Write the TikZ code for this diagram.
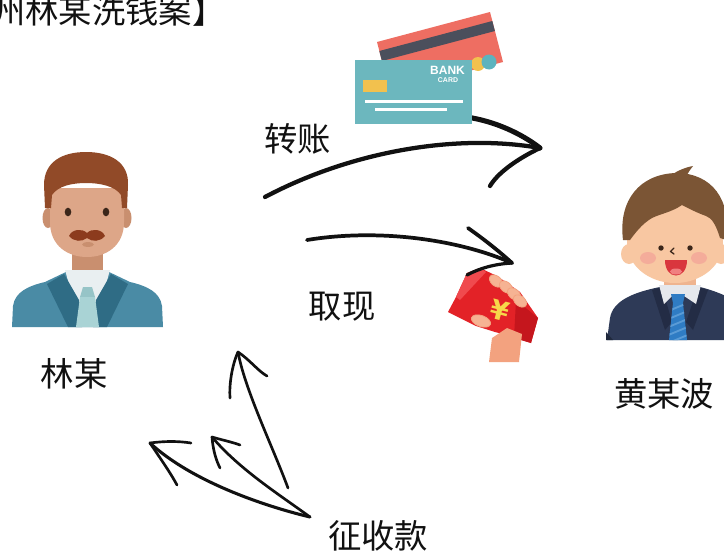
\documentclass[tikz,border=0pt]{standalone}
\usepackage{fontspec}
\newfontfamily\cjk{Noto Sans CJK SC}
\newfontfamily\cardfont{Liberation Sans}
\newfontfamily\yenfont{DejaVu Sans}

% palette
\definecolor{suitL}{HTML}{4A8BA5}
\definecolor{lapelL}{HTML}{2F6C85}
\definecolor{shirtL}{HTML}{E9EFF1}
\definecolor{tieL}{HTML}{A9D3D5}
\definecolor{knotL}{HTML}{96C4C7}
\definecolor{skinL}{HTML}{DDA688}
\definecolor{skinDL}{HTML}{C98F6F}
\definecolor{hairL}{HTML}{914A28}
\definecolor{stacheL}{HTML}{8C3B1D}
\definecolor{eyeL}{HTML}{3B261A}
\definecolor{suitR}{HTML}{2E3A57}
\definecolor{lapelR}{HTML}{232C45}
\definecolor{shirtR}{HTML}{E6E8EC}
\definecolor{tieR}{HTML}{2F7CC4}
\definecolor{tieRs}{HTML}{5A9BD6}
\definecolor{skinR}{HTML}{F8C7A2}
\definecolor{skinDR}{HTML}{EFB48F}
\definecolor{hairR}{HTML}{7B5535}
\definecolor{cheekR}{HTML}{F29B96}
\definecolor{mouthR}{HTML}{D9363E}
\definecolor{tongueR}{HTML}{F07F80}
\definecolor{cardRed}{HTML}{EE6E62}
\definecolor{cardStripe}{HTML}{4B4F5C}
\definecolor{cardTeal}{HTML}{6CB7BE}
\definecolor{cardDot}{HTML}{5DB3BE}
\definecolor{chip}{HTML}{F2C14E}
\definecolor{envRed}{HTML}{E32227}
\definecolor{envDark}{HTML}{C5161D}
\definecolor{envLight}{HTML}{F04A4E}
\definecolor{hand}{HTML}{F3A27F}
\definecolor{finger}{HTML}{F6B393}
\definecolor{yen}{HTML}{F7D84A}
\definecolor{ink}{HTML}{111111}

\tikzset{
  lbl/.style={font=\cjk\fontsize{25}{30}\selectfont, inner sep=0pt, text=ink, anchor=base},
  pen/.style={draw=ink, line width=3.2pt, line cap=round, line join=round},
  thinpen/.style={draw=ink, line width=2pt, line cap=round, line join=round},
}

\begin{document}
\begin{tikzpicture}[x=0.75pt,y=-0.75pt]
\useasboundingbox (0,0) rectangle (724,553);
\fill[white] (0,0) rectangle (724,553);

% ---------- heading ----------
\node[lbl, anchor=base west] (title) at (-8,23) {州林某洗钱案】};

% ---------- left person ----------
\fill[skinDL] (72,245) rectangle (103,280);
\fill[suitL] (12,327) -- (13,306) .. controls (15,292) and (28,286) .. (45,282)
   -- (68,271) -- (107,271) -- (130,282) .. controls (147,286) and (160,292) .. (162,306)
   -- (163,327) -- cycle;
\fill[shirtL] (65,270) -- (110,270) -- (101,302) -- (74,302) -- cycle;
\fill[lapelL] (47,284) -- (64,274) -- (79,300) -- (82,327) -- (68,327) -- cycle;
\fill[lapelL] (128,284) -- (111,274) -- (96,300) -- (93,327) -- (107,327) -- cycle;
\fill[knotL] (83,287) -- (92,287) -- (95,297) -- (80,297) -- cycle;
\fill[tieL] (80,297) -- (95,297) -- (99,327) -- (76,327) -- cycle;
\fill[skinDL] (48,218) ellipse [x radius=5.5, y radius=10];
\fill[skinDL] (126,218) ellipse [x radius=5.5, y radius=10];
\fill[skinL] (50,188) -- (50,222) .. controls (50,246) and (68,257) .. (87,257)
   .. controls (106,257) and (124,246) .. (124,222) -- (124,188) -- cycle;
\fill[hairL] (45,208) -- (44,185) .. controls (44,162) and (62,152) .. (86,152)
   .. controls (110,152) and (129,162) .. (128,185) -- (127,208) -- (122,208) -- (121,195)
   .. controls (115,186) and (100,183) .. (86,183) .. controls (72,183) and (58,186) .. (52,195)
   -- (51,208) -- cycle;
\fill[eyeL] (68,212) ellipse [x radius=3.3, y radius=4.3];
\fill[eyeL] (106,212) ellipse [x radius=3.3, y radius=4.3];
\fill[stacheL] (69,236) .. controls (72,229) and (82,228) .. (87,233)
   .. controls (92,228) and (102,229) .. (105,236)
   .. controls (100,242) and (92,242) .. (87,238)
   .. controls (82,242) and (74,242) .. (69,236) -- cycle;
\fill[skinDL] (88,244.5) ellipse [x radius=6, y radius=2.4];

% ---------- right person ----------
\fill[skinDR] (664,272) rectangle (696,292);
\fill[suitR] (607,340) -- (610,318) .. controls (613,300) and (635,292) .. (660,287)
   -- (700,287) .. controls (712,290) and (722,294) .. (730,298) -- (730,340) -- cycle;
\fill[lapelR] (652,290) -- (662,287) -- (672,322) -- (665,330) -- cycle;
\fill[lapelR] (708,290) -- (698,287) -- (686,322) -- (693,330) -- cycle;
\fill[shirtR] (659,285) -- (701,285) -- (696,304) -- (684,296) -- (672,296) -- (664,304) -- cycle;
\fill[tieR] (671,294) -- (685,294) -- (683,303) -- (673,303) -- cycle;
\fill[tieR] (673,303) -- (683,303) -- (687,340) -- (669,340) -- cycle;
\begin{scope}
  \clip (673,303) -- (683,303) -- (687,340) -- (669,340) -- cycle;
  \foreach \s in {306,314,322,330,338}
    \draw[tieRs, line width=1.4pt] (666,\s+6) -- (690,\s-4);
\end{scope}
\fill[skinR] (629,254) ellipse [x radius=8, y radius=10];
\fill[skinR] (721,254) ellipse [x radius=8, y radius=10];
\fill[skinR] (675,243) ellipse [x radius=48, y radius=40];
\fill[hairR] (623,240) .. controls (618,200) and (640,174) .. (676,173)
   .. controls (712,173) and (732,200) .. (726,240) -- (720,238)
   .. controls (716,225) and (712,218) .. (706,216)
   .. controls (695,212) and (688,208) .. (682,205)
   .. controls (672,212) and (660,214) .. (652,218)
   .. controls (642,224) and (636,232) .. (630,240) -- cycle;
\fill[hairR] (670,176) .. controls (678,170) and (687,167) .. (693,166)
   .. controls (689,171) and (687,175) .. (685,178) -- cycle;
\fill[cheekR, opacity=0.6] (648,258) ellipse [x radius=8, y radius=6];
\fill[cheekR, opacity=0.6] (699,258) ellipse [x radius=8, y radius=6];
\fill[eyeL] (661,248) circle [radius=2.7];
\fill[eyeL] (690,248) circle [radius=2.7];
\draw[eyeL, line width=1pt, line cap=round, line join=round] (674,248) -- (670.5,251.5) -- (674,254);
\fill[mouthR] (665,260) -- (687,260) .. controls (687,270) and (682,275.5) .. (676,275.5)
   .. controls (670,275.5) and (665,270) .. (665,260) -- cycle;
\fill[tongueR] (676,271.5) ellipse [x radius=6, y radius=3];
\fill[suitR!70!black] (606,332) -- (613,340) -- (606,340) -- cycle;

% ---------- red envelope in hand ----------
\fill[envRed] (467,273) -- (480,268) -- (497,276) -- (520,292) -- (538,318) -- (531,343)
   -- (510,336) -- (495,332) -- (476,326) -- (448,312) -- (456,297) -- cycle;
\fill[envDark] (516,300) -- (538,318) -- (531,343) -- (514,338) -- cycle;
\fill[envLight] (467,273) -- (480,268) -- (486,272) -- (460,300) -- (456,297) -- cycle;
\fill[hand] (489,362) -- (492,338) -- (507,328) -- (522,334) -- (519,362) -- cycle;
\node[font=\yenfont\bfseries\fontsize{20}{20}\selectfont, text=yen, inner sep=0pt, rotate=-15]
   (yuan) at (500,311) {¥};
\foreach \cx/\cy in {496/281, 506/287, 514/294, 520/301}
  \fill[finger, draw=hand, line width=0.6pt, rotate around={-40:(\cx,\cy)}]
     (\cx,\cy) ellipse [x radius=7.5, y radius=5];
\fill[finger, draw=hand, line width=0.6pt, rotate around={-20:(481,321)}]
   (481,321) ellipse [x radius=10, y radius=5.5];

% ---------- arrows ----------
\coordinate (t1s) at (265,197);
\coordinate (t1e) at (540,148);
\coordinate (t1u) at (466,117);
\coordinate (t1d) at (490,186);
\draw[pen] (t1s) .. controls (350,152) and (455,133) .. (t1e);
\draw[pen, line width=3.8pt] (t1u) .. controls (495,121) and (522,134) .. (t1e);
\draw[pen] (t1e) .. controls (515,160) and (497,174) .. (t1d);

\coordinate (t2s) at (307,240);
\coordinate (t2e) at (512,263);
\coordinate (t2u) at (468,228);
\coordinate (t2d) at (467,275);
\draw[pen, line width=2.8pt] (t2s) .. controls (380,228) and (460,240) .. (t2e);
\draw[pen, line width=2.8pt] (t2u) .. controls (485,240) and (500,252) .. (t2e);
\draw[pen, line width=2.4pt] (t2e) .. controls (495,264) and (480,268) .. (t2d);

\coordinate (src) at (310,517);
\coordinate (srcA) at (288,488);
\coordinate (tipA) at (238,352);
\coordinate (tipB) at (212,437);
\coordinate (tipC) at (150,443);
\draw[thinpen] (srcA) .. controls (272,445) and (245,390) .. (tipA);
\draw[thinpen] (tipA) .. controls (232,365) and (229,385) .. (230,398);
\draw[thinpen] (tipA) .. controls (250,360) and (258,371) .. (267,376);
\draw[thinpen] (src) .. controls (280,495) and (240,470) .. (tipB);
\draw[thinpen] (tipB) .. controls (222,440) and (232,442) .. (240,445);
\draw[thinpen] (tipB) .. controls (213,450) and (216,460) .. (220,468);
\draw[thinpen, line width=2.3pt] (src) .. controls (260,505) and (190,480) .. (tipC);
\draw[thinpen] (tipC) .. controls (165,441) and (178,441) .. (191,443);
\draw[thinpen] (tipC) .. controls (160,458) and (170,472) .. (177,485);

% ---------- bank cards ----------
\fill[cardRed] (377,42) -- (490,12) -- (503,62) -- (390,92) -- cycle;
\fill[cardStripe] (379.3,51) -- (492.3,21) -- (494.9,31) -- (381.9,61) -- cycle;
\fill[chip] (478,64) circle [radius=7];
\fill[cardDot] (489,62) circle [radius=7.5];
\fill[cardTeal] (355,60) rectangle (472,124);
\fill[chip] (363,80) rectangle (387,92);
\fill[white] (365,99.5) rectangle (463,103);
\fill[white] (375,107.5) rectangle (447,111);
\node[font=\cardfont\bfseries\fontsize{9}{9}\selectfont, text=white, inner sep=0pt] (bank) at (447.5,70.5) {BANK};
\node[font=\cardfont\bfseries\fontsize{5.2}{5.2}\selectfont, text=white, inner sep=0pt] (card) at (448,80.5) {CARD};

% ---------- captions ----------
\node[lbl] (zz) at (297.5,151) {转账};
\node[lbl] (qx) at (342,318) {取现};
\node[lbl] (lin) at (74,386) {林某};
\node[lbl] (huang) at (664,406) {黄某波};
\node[lbl] (zsk) at (378,548) {征收款};
\end{tikzpicture}
\end{document}
